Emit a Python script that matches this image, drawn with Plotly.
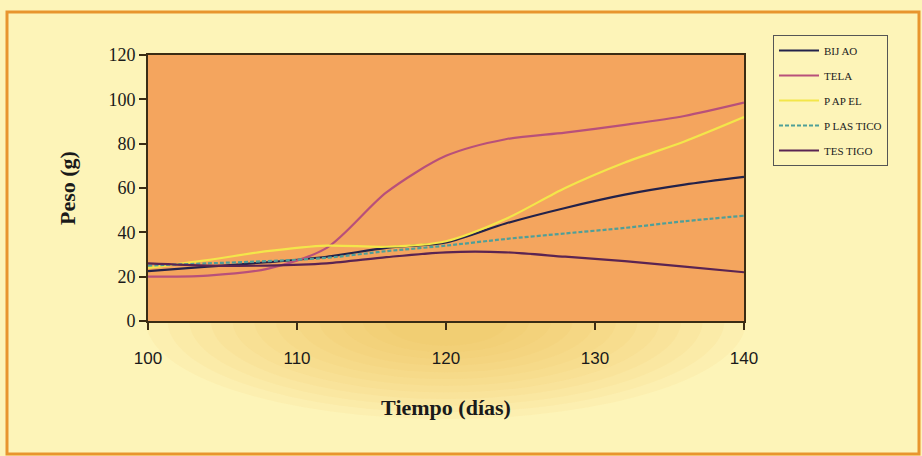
import plotly.graph_objects as go

days = [100, 104, 108, 112, 116, 120, 124, 128, 132, 136, 140]
bijao = [22.5, 24.5, 26.5, 29, 33, 35.5, 44, 51, 57, 61.5, 65]
tela = [20, 20.5, 23.5, 33, 58, 74.5, 82, 85, 88.5, 92.5, 98.5]
papel = [24, 27.5, 31.5, 34, 33.5, 36, 46, 60, 71.5, 81, 92]
plastico = [25, 26, 27, 28.5, 31.5, 34, 37, 39.5, 42, 45, 47.5]
testigo = [26, 25, 25, 26, 28.8, 31, 31, 29, 27, 24.5, 22]

legend_labels = ["BIJ AO", "TELA", "P AP EL", "P LAS TICO", "TES TIGO"]
colors = ["#23224a", "#b8507a", "#f3e64a", "#4f9f98", "#5a2452"]
dashes = ["solid", "solid", "solid", "4px,2px", "solid"]
series = [bijao, tela, papel, plastico, testigo]

fig = go.Figure()
for i, (lab, ys) in enumerate(zip(legend_labels, series)):
    fig.add_trace(go.Scatter(
        x=days, y=ys, mode="lines", name=lab, legendgroup=str(i),
        line=dict(color=colors[i], width=2.2, shape="spline", smoothing=0.8, dash=dashes[i]),
    ))

L, R, T, B = 148, 744, 55, 321
W, H = 922, 456
def px(x):
    return (x - L) / (R - L)
def py(y):
    return (B - y) / (B - T)

shapes = []
# soft orange glow below the plot area (concentric ellipses centred on bottom edge)
cx, cy = 446, 321
for k in range(12):
    f = 1 - k / 12
    rx = 40 + 260 * f
    ry = 18 + 80 * f
    shapes.append(dict(type="circle", xref="paper", yref="paper", layer="below",
                       x0=px(cx - rx), x1=px(cx + rx), y0=py(cy + ry), y1=py(cy - ry),
                       fillcolor="#f7b448", opacity=0.07, line=dict(width=0)))
# orange plot area drawn over the glow
shapes.append(dict(type="rect", xref="paper", yref="paper", layer="below",
                   x0=0, x1=1, y0=0, y1=1, fillcolor="#f4a55e", line=dict(width=0)))
# outer frame
shapes.append(dict(type="rect", xref="paper", yref="paper", layer="above",
                   x0=px(7), x1=px(919), y0=py(454), y1=py(12),
                   line=dict(color="#e8952e", width=3), fillcolor="rgba(0,0,0,0)"))

fig.update_layout(
    width=W, height=H,
    margin=dict(l=L, r=W - R, t=T, b=H - B),
    paper_bgcolor="#fdf4b8",
    plot_bgcolor="#f4a55e",
    shapes=shapes,
    showlegend=True,
    legend=dict(
        x=px(773), y=py(35), xanchor="left", yanchor="top",
        bgcolor="#fdf4b8", bordercolor="#555555", borderwidth=1,
        font=dict(family="Liberation Serif", size=11, color="#222222"),
        tracegroupgap=6, itemwidth=40,
    ),
    xaxis=dict(
        range=[100, 140], tickvals=[100, 110, 120, 130, 140],
        ticks="outside", ticklen=7, tickcolor="#3a2c14", tickwidth=1.5,
        showline=True, linecolor="#3a2c14", linewidth=2, mirror=True,
        showgrid=False, zeroline=False,
        tickfont=dict(family="Liberation Sans", size=17, color="#1a1a1a"),
        ticklabelstandoff=14,
        title=dict(text="<b>Tiempo (días)</b>", standoff=32,
                   font=dict(family="Liberation Serif", size=22, color="#1a1a1a")),
    ),
    yaxis=dict(
        range=[0, 120], dtick=20,
        ticks="outside", ticklen=7, tickcolor="#3a2c14", tickwidth=1.5,
        showline=True, linecolor="#3a2c14", linewidth=2, mirror=True,
        showgrid=False, zeroline=False,
        tickfont=dict(family="Liberation Serif", size=18, color="#1a1a1a"),
        title=dict(text="<b>Peso (g)</b>", standoff=27,
                   font=dict(family="Liberation Serif", size=22, color="#1a1a1a")),
    ),
)

fig.write_html("out.html", config={"displayModeBar": False},
               post_script="document.body.style.margin='0';")
